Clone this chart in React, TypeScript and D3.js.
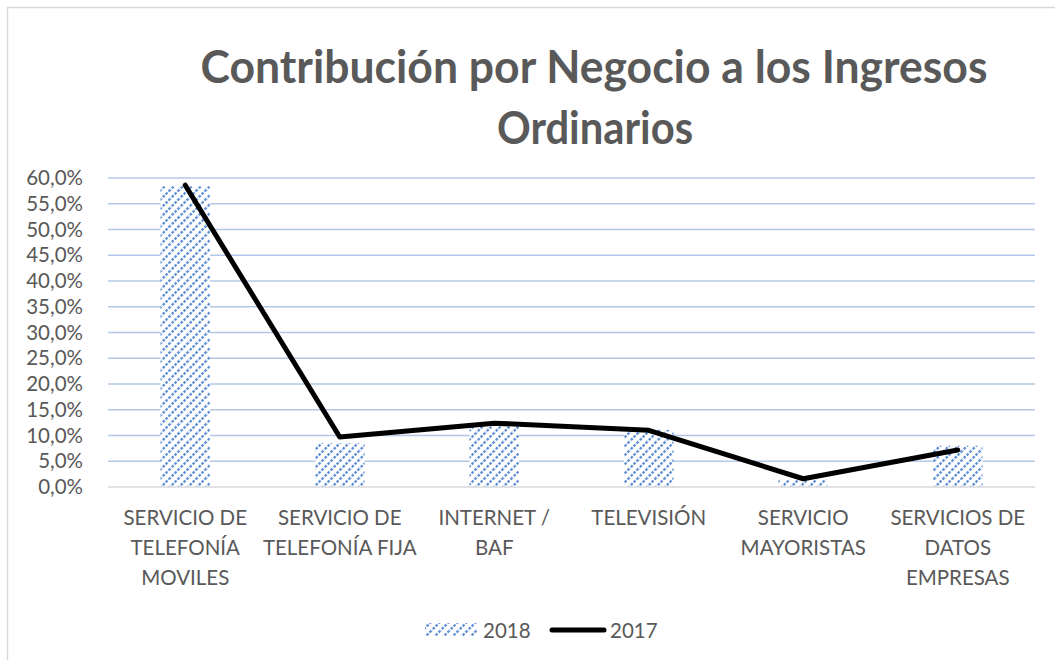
import React from "react";
import * as d3 from "d3";

const categories: string[][] = [
  ["SERVICIO DE", "TELEFONÍA", "MOVILES"],
  ["SERVICIO DE", "TELEFONÍA FIJA"],
  ["INTERNET /", "BAF"],
  ["TELEVISIÓN"],
  ["SERVICIO", "MAYORISTAS"],
  ["SERVICIOS DE", "DATOS", "EMPRESAS"],
];
const values2018 = [58.4, 8.5, 11.8, 11.1, 1.4, 8.0];
const values2017 = [58.6, 9.7, 12.4, 11.0, 1.6, 7.2];
const yTicks = [0, 5, 10, 15, 20, 25, 30, 35, 40, 45, 50, 55, 60];

const W = 1055;
const H = 660;
const left = 108;
const right = 1035;
const top = 178;
const bottom = 487;
const grey = "#595959";
const font = "Lato, 'Open Sans', sans-serif";
const fs = 20.5;

export default function App() {
  const idx = categories.map((_, i) => String(i));
  const x = d3.scaleBand<string>().domain(idx).range([left, right]).paddingInner(0.68).paddingOuter(0.34);
  const xc = (i: number) => (x(String(i)) as number) + x.bandwidth() / 2;
  const y = d3.scaleLinear().domain([0, 60]).range([bottom, top]);
  const line = d3
    .line<number>()
    .x((_, i) => xc(i))
    .y((d) => y(d));
  const fmt = (v: number) => v.toFixed(1).replace(".", ",") + "%";

  return (
    <svg width={W} height={H} style={{ position: "absolute", left: 0, top: 0 }}>
      <defs>
        <pattern id="wud" patternUnits="userSpaceOnUse" width="9" height="9">
          <rect width="9" height="9" fill="#ffffff" />
          <path d="M-2,11 L11,-2 M-2,2 L2,-2 M7,11 L11,7" stroke="#5f8fd4" strokeWidth="2.3" strokeDasharray="2.6,1.4" />
        </pattern>
      </defs>
      <rect x={0} y={0} width={W} height={H} fill="#fff" />
      <rect x={7.5} y={7.5} width={W + 20} height={H + 20} fill="none" stroke="#d9d9d9" strokeWidth={1.5} />
      <text x={594} y={83} textAnchor="middle" fontFamily={font} fontWeight="bold" fontSize={46} fill={grey} textLength={787} lengthAdjust="spacingAndGlyphs">
        Contribución por Negocio a los Ingresos
      </text>
      <text x={595} y={144} textAnchor="middle" fontFamily={font} fontWeight="bold" fontSize={46} fill={grey} textLength={196} lengthAdjust="spacingAndGlyphs">
        Ordinarios
      </text>
      {yTicks.map((t) => (
        <g key={t}>
          {t > 0 && <line x1={left} x2={right} y1={y(t)} y2={y(t)} stroke="#b4c7e7" strokeWidth={1.5} />}
          <text x={83} y={y(t) + 7} textAnchor="end" fontFamily={font} fontSize={fs} fill={grey}>
            {fmt(t)}
          </text>
        </g>
      ))}
      {values2018.map((v, i) => (
        <rect key={i} x={x(String(i))} y={y(v)} width={x.bandwidth()} height={y(0) - y(v)} fill="url(#wud)" />
      ))}
      <line x1={left} x2={right} y1={bottom} y2={bottom} stroke="#d9d9d9" strokeWidth={1.5} />
      <path d={line(values2017) || ""} fill="none" stroke="#000" strokeWidth={5} strokeLinejoin="round" strokeLinecap="round" />
      {categories.map((lines, i) => (
        <text key={i} textAnchor="middle" fontFamily={font} fontSize={fs} fill={grey}>
          {lines.map((l, j) => (
            <tspan key={j} x={xc(i)} y={525 + j * 30}>
              {l}
            </tspan>
          ))}
        </text>
      ))}
      <rect x={425} y={623} width={52} height={13} fill="url(#wud)" />
      <text x={483} y={638} fontFamily={font} fontSize={fs} fill={grey}>2018</text>
      <line x1={552} x2={604} y1={630} y2={630} stroke="#000" strokeWidth={5} strokeLinecap="round" />
      <text x={610} y={638} fontFamily={font} fontSize={fs} fill={grey}>2017</text>
    </svg>
  );
}
